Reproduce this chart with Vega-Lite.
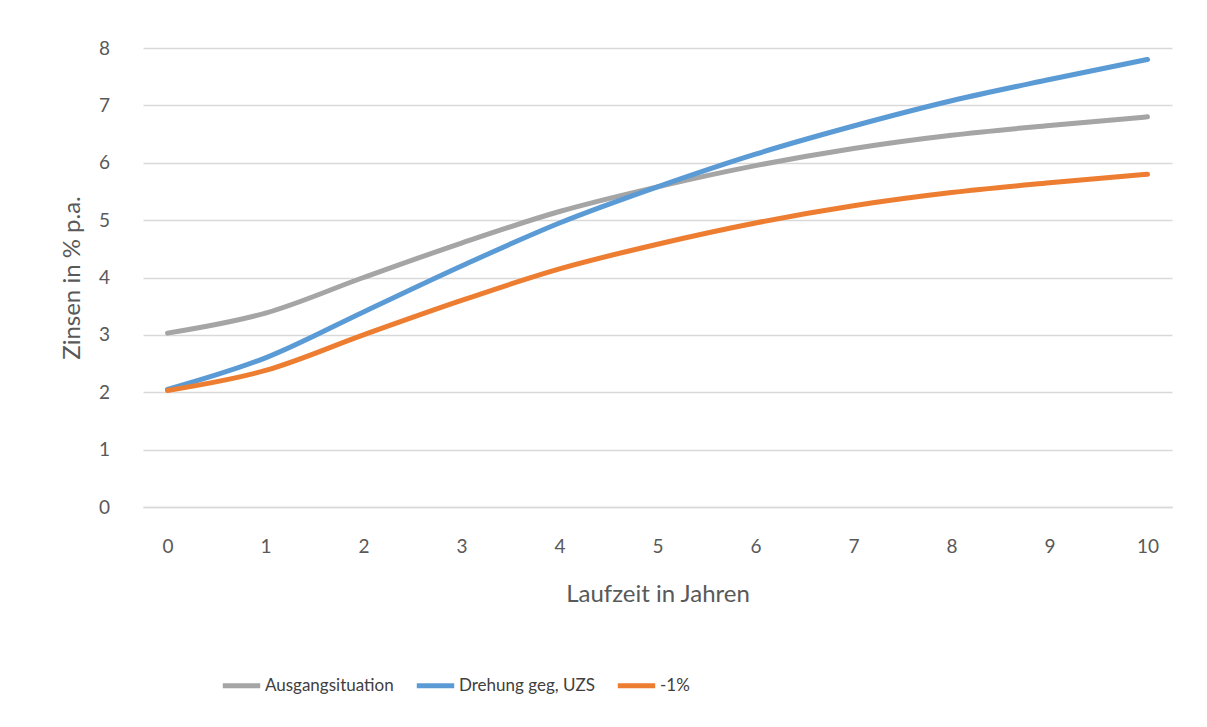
{
  "$schema": "https://vega.github.io/schema/vega-lite/v6.json",
  "width": 1029,
  "height": 459,
  "autosize": {"type": "none"},
  "padding": {"left": 143, "top": 48, "right": 35, "bottom": 220},
  "background": "white",
  "config": {
    "font": "Lato",
    "view": {"stroke": null}
  },
  "data": {
    "values": [
      {"t": 0, "s": "Ausgangsituation", "v": 3.03},
      {"t": 1, "s": "Ausgangsituation", "v": 3.38},
      {"t": 2, "s": "Ausgangsituation", "v": 4.0},
      {"t": 3, "s": "Ausgangsituation", "v": 4.6},
      {"t": 4, "s": "Ausgangsituation", "v": 5.15},
      {"t": 5, "s": "Ausgangsituation", "v": 5.58},
      {"t": 6, "s": "Ausgangsituation", "v": 5.95},
      {"t": 7, "s": "Ausgangsituation", "v": 6.25},
      {"t": 8, "s": "Ausgangsituation", "v": 6.48},
      {"t": 9, "s": "Ausgangsituation", "v": 6.65},
      {"t": 10, "s": "Ausgangsituation", "v": 6.8},
      {"t": 0, "s": "Drehung geg, UZS", "v": 2.05},
      {"t": 1, "s": "Drehung geg, UZS", "v": 2.6},
      {"t": 2, "s": "Drehung geg, UZS", "v": 3.4},
      {"t": 3, "s": "Drehung geg, UZS", "v": 4.2},
      {"t": 4, "s": "Drehung geg, UZS", "v": 4.95},
      {"t": 5, "s": "Drehung geg, UZS", "v": 5.58},
      {"t": 6, "s": "Drehung geg, UZS", "v": 6.15},
      {"t": 7, "s": "Drehung geg, UZS", "v": 6.64},
      {"t": 8, "s": "Drehung geg, UZS", "v": 7.08},
      {"t": 9, "s": "Drehung geg, UZS", "v": 7.45},
      {"t": 10, "s": "Drehung geg, UZS", "v": 7.8},
      {"t": 0, "s": "-1%", "v": 2.03},
      {"t": 1, "s": "-1%", "v": 2.38},
      {"t": 2, "s": "-1%", "v": 3.0},
      {"t": 3, "s": "-1%", "v": 3.6},
      {"t": 4, "s": "-1%", "v": 4.15},
      {"t": 5, "s": "-1%", "v": 4.58},
      {"t": 6, "s": "-1%", "v": 4.95},
      {"t": 7, "s": "-1%", "v": 5.25},
      {"t": 8, "s": "-1%", "v": 5.48},
      {"t": 9, "s": "-1%", "v": 5.65},
      {"t": 10, "s": "-1%", "v": 5.8}
    ]
  },
  "mark": {"type": "line", "interpolate": "monotone", "strokeWidth": 5, "strokeCap": "round"},
  "encoding": {
    "x": {
      "field": "t",
      "type": "ordinal",
      "sort": null,
      "scale": {"type": "point", "padding": 0.25},
      "axis": {
        "title": "Laufzeit in Jahren",
        "titleFontSize": 24,
        "titleFontWeight": "normal",
        "titleColor": "#595959",
        "titlePadding": 26,
        "labelAngle": 0,
        "labelFontSize": 19,
        "labelColor": "#595959",
        "labelPadding": 30,
        "ticks": false,
        "domain": true,
        "domainColor": "#D9D9D9",
        "domainWidth": 1.5,
        "grid": false
      }
    },
    "y": {
      "field": "v",
      "type": "quantitative",
      "scale": {"domain": [0, 8]},
      "axis": {
        "title": "Zinsen in % p.a.",
        "titleFontSize": 24,
        "titleFontWeight": "normal",
        "titleColor": "#595959",
        "titlePadding": 14,
        "values": [0, 1, 2, 3, 4, 5, 6, 7, 8],
        "labelFontSize": 19,
        "labelColor": "#595959",
        "labelPadding": 39,
        "labelAlign": "center",
        "ticks": false,
        "domain": false,
        "grid": true,
        "gridColor": "#D9D9D9",
        "gridWidth": 1.5
      }
    },
    "color": {
      "field": "s",
      "type": "nominal",
      "sort": ["Ausgangsituation", "Drehung geg, UZS", "-1%"],
      "scale": {
        "domain": ["Ausgangsituation", "Drehung geg, UZS", "-1%"],
        "range": ["#A5A5A5", "#5B9BD5", "#ED7D31"]
      },
      "legend": {
        "title": null,
        "orient": "none",
        "direction": "horizontal",
        "legendX": 77,
        "legendY": 616,
        "symbolType": "stroke",
        "symbolSize": 1400,
        "symbolStrokeWidth": 5,
        "labelFontSize": 17,
        "labelColor": "#404040",
        "labelOffset": 2,
        "columnPadding": 12,
        "labelLimit": 300
      }
    }
  }
}
